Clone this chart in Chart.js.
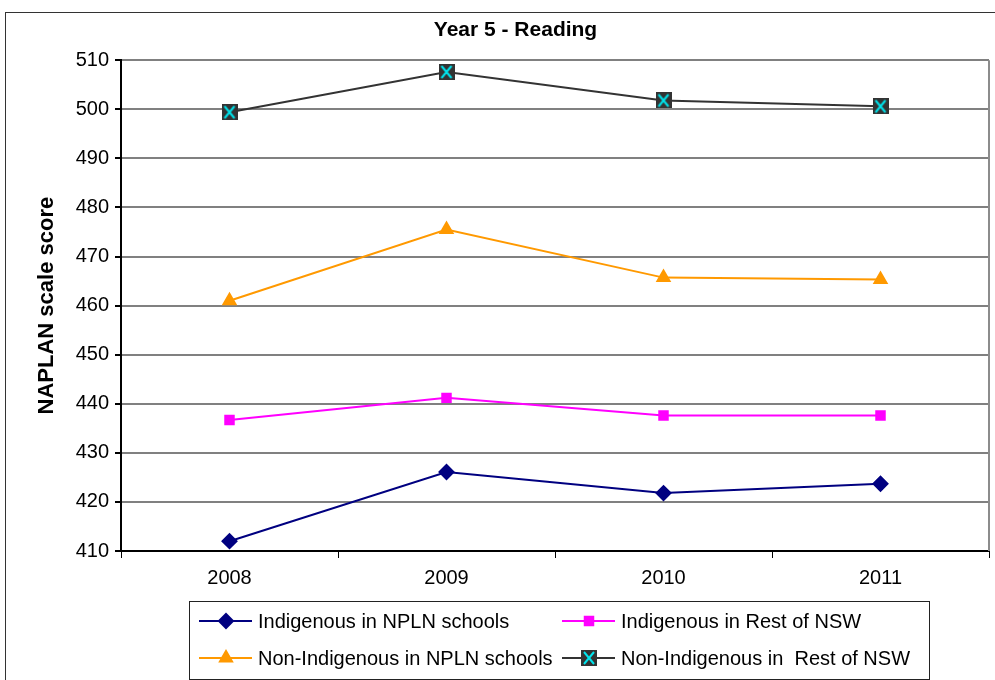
<!DOCTYPE html>
<html>
<head>
    <title>Year 5 - Reading</title>
    <style>
        body { margin: 0; background: white; font-family: "Liberation Sans", Arial, sans-serif; }
        .frame { position: absolute; left: 5px; top: 12px; width: 994px; height: 670px; border: 1px solid #333; box-sizing: border-box; }
        .frame canvas { display: block; }
    </style>
</head>
<body>
    <div class="frame">
        <canvas id="chart" width="993" height="668"></canvas>
    </div>

    <script src="https://cdn.jsdelivr.net/npm/chart.js"></script>
    <script>
        const years = ['2008', '2009', '2010', '2011'];
        const indigNPLN = [412.0, 426.1, 421.8, 423.7];
        const indigRest = [436.7, 441.2, 437.6, 437.6];
        const nonIndigNPLN = [461.0, 475.5, 465.7, 465.3];
        const nonIndigRest = [499.4, 507.6, 501.8, 500.6];
        const yTicks = [410, 420, 430, 440, 450, 460, 470, 480, 490, 500, 510];

        // dark square with a cyan cross, like the Excel marker
        function crossMarker() {
            const c = document.createElement('canvas');
            c.width = 16; c.height = 16;
            const g = c.getContext('2d');
            g.fillStyle = '#333333';
            g.fillRect(0, 0, 16, 16);
            g.strokeStyle = '#00e5ee';
            g.lineWidth = 2;
            g.beginPath();
            g.moveTo(3, 2); g.lineTo(13, 14);
            g.moveTo(13, 2); g.lineTo(3, 14);
            g.stroke();
            return c;
        }
        const xMark = crossMarker();

        const font = '"Liberation Sans", Arial, sans-serif';

        // legend drawn on the canvas: line + marker + label, two columns
        const boxLegend = {
            id: 'boxLegend',
            afterDraw(chart) {
                const ctx = chart.ctx;
                const left = 183, top = 588, w = 740, h = 78;
                ctx.save();
                ctx.strokeStyle = '#222';
                ctx.lineWidth = 1;
                ctx.strokeRect(left + 0.5, top + 0.5, w, h);
                const cols = [193, 556];
                const rows = [top + 20, top + 57];
                chart.data.datasets.forEach((ds, i) => {
                    const x = cols[i % 2], y = rows[Math.floor(i / 2)];
                    ctx.strokeStyle = ds.borderColor;
                    ctx.lineWidth = 2;
                    ctx.beginPath();
                    ctx.moveTo(x, y); ctx.lineTo(x + 53, y);
                    ctx.stroke();
                    ctx.fillStyle = ds.pointBackgroundColor;
                    ctx.strokeStyle = ds.pointBorderColor;
                    Chart.helpers.drawPoint(ctx, {
                        pointStyle: ds.pointStyle, radius: ds.pointRadius, rotation: 0,
                        borderWidth: 1
                    }, x + 27, y);
                    ctx.fillStyle = '#000';
                    ctx.font = '20px ' + font;
                    ctx.textBaseline = 'middle';
                    ctx.fillText(ds.label, x + 59, y + 1);
                });
                ctx.restore();
            }
        };

        // gray border on the right side of the plot area
        const plotBorder = {
            id: 'plotBorder',
            beforeDatasetsDraw(chart) {
                const a = chart.chartArea, ctx = chart.ctx;
                ctx.save();
                ctx.strokeStyle = '#8c8c8c';
                ctx.lineWidth = 2;
                ctx.beginPath();
                ctx.moveTo(a.right, a.top); ctx.lineTo(a.right, a.bottom);
                ctx.stroke();
                ctx.restore();
            }
        };

        function ds(label, data, color, style, radius, pointColor) {
            return {
                label: label, data: data,
                borderColor: color, backgroundColor: pointColor || color,
                pointBackgroundColor: pointColor || color, pointBorderColor: pointColor || color,
                borderWidth: 2, pointStyle: style, pointRadius: radius, pointHoverRadius: radius,
                tension: 0
            };
        }

        new Chart(document.getElementById('chart'), {
            type: 'line',
            data: {
                labels: years,
                datasets: [
                    ds('Indigenous in NPLN schools', indigNPLN, '#000080', 'rectRot', 7),
                    ds('Indigenous in Rest of NSW', indigRest, '#ff00ff', 'rect', 6),
                    ds('Non-Indigenous in NPLN schools', nonIndigNPLN, '#ff9900', 'triangle', 7),
                    ds('Non-Indigenous in  Rest of NSW', nonIndigRest, '#333333', xMark, 8)
                ]
            },
            options: {
                responsive: false,
                animation: false,
                layout: { padding: { top: 0, right: 2, bottom: 92, left: 28 } },
                plugins: {
                    legend: { display: false },
                    tooltip: { enabled: false },
                    title: {
                        display: true, text: 'Year 5 - Reading', color: '#000',
                        font: { family: font, size: 21, weight: 'bold' },
                        padding: { top: 5, bottom: 17 }
                    }
                },
                scales: {
                    x: {
                        offset: true,
                        grid: { offset: true, drawOnChartArea: false, color: '#000', tickLength: 7, tickColor: '#000' },
                        border: { color: '#000', width: 2 },
                        ticks: { color: '#000', font: { family: font, size: 20 }, padding: 8 },
                        afterFit: s => { s.height = 38; }
                    },
                    y: {
                        min: 410, max: 510,
                        afterBuildTicks: s => { s.ticks = yTicks.map(v => ({ value: v })); },
                        grid: { color: '#808080', lineWidth: 2, tickLength: 6, tickColor: '#000' },
                        border: { color: '#000', width: 2 },
                        ticks: { color: '#000', font: { family: font, size: 20 }, padding: 6 },
                        title: {
                            display: true, text: 'NAPLAN scale score', color: '#000',
                            font: { family: font, size: 22, weight: 'bold' }, padding: { top: 0, bottom: 10 }
                        },
                        afterFit: s => { s.width = 87; }
                    }
                }
            },
            plugins: [plotBorder, boxLegend]
        });
    </script>
</body>
</html>
